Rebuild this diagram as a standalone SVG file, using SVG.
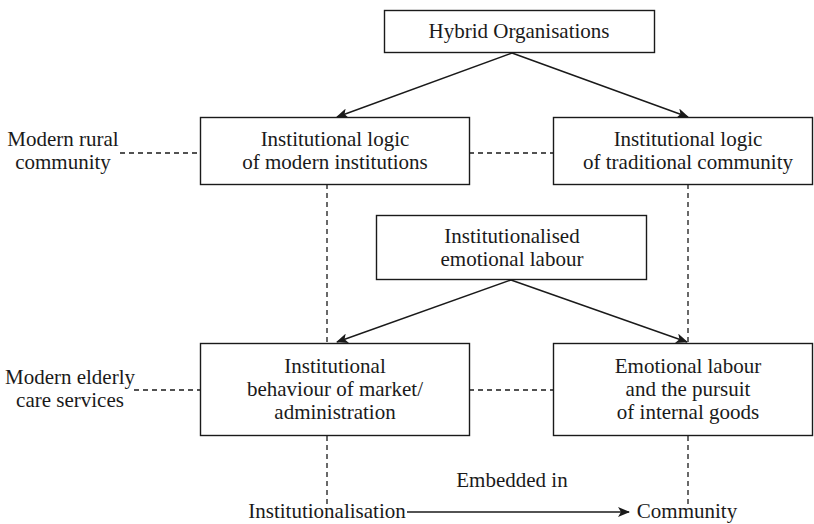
<svg xmlns="http://www.w3.org/2000/svg" width="814" height="524" viewBox="0 0 814 524">
<style>
  .box { fill: #fff; stroke: #1a1a1a; stroke-width: 1.4; }
  .t { font-family: "Liberation Serif", "Times New Roman", serif; font-size: 21px; fill: #1a1a1a; text-anchor: middle; }
  .arr { stroke: #1a1a1a; stroke-width: 1.4; fill: none; marker-end: url(#ah); }
  .dash { stroke: #1a1a1a; stroke-width: 1.3; fill: none; stroke-dasharray: 5 4; }
</style>
<defs>
  <marker id="ah" viewBox="0 0 12 10" refX="11" refY="5" markerWidth="12" markerHeight="10" markerUnits="userSpaceOnUse" orient="auto">
    <path d="M0,0 L12,5 L0,10 L3,5 Z" fill="#1a1a1a"/>
  </marker>
</defs>
<rect width="814" height="524" fill="#fff"/>
<g id="connectors">
  <line class="dash" x1="120" y1="153" x2="200" y2="153"/>
  <line class="dash" x1="469" y1="153" x2="553" y2="153"/>
  <line class="dash" x1="134" y1="390" x2="200" y2="390"/>
  <line class="dash" x1="469" y1="390" x2="553" y2="390"/>
  <line class="dash" x1="327" y1="184" x2="327" y2="343"/>
  <line class="dash" x1="688" y1="184" x2="688" y2="343"/>
  <line class="dash" x1="327" y1="436" x2="327" y2="505"/>
  <line class="dash" x1="688" y1="436" x2="688" y2="505"/>
  <line class="arr" x1="512" y1="53" x2="337" y2="117"/>
  <line class="arr" x1="512" y1="53" x2="688" y2="117"/>
  <line class="arr" x1="511" y1="280" x2="337" y2="342"/>
  <line class="arr" x1="511" y1="280" x2="687" y2="342"/>
  <line class="arr" x1="407" y1="512" x2="629" y2="512"/>
</g>
<g id="hybrid">
  <rect class="box" x="384.5" y="10.5" width="270" height="42"/>
  <text class="t" x="519" y="38">Hybrid Organisations</text>
</g>
<g id="logic-modern">
  <rect class="box" x="200.5" y="117.5" width="269" height="67"/>
  <text class="t" x="335" y="146">Institutional logic</text>
  <text class="t" x="335" y="169">of modern institutions</text>
</g>
<g id="logic-traditional">
  <rect class="box" x="553.5" y="117.5" width="259" height="67"/>
  <text class="t" x="688" y="146">Institutional logic</text>
  <text class="t" x="688" y="169">of traditional community</text>
</g>
<g id="inst-emotional">
  <rect class="box" x="376.5" y="215.5" width="270" height="64"/>
  <text class="t" x="512" y="243">Institutionalised</text>
  <text class="t" x="512" y="266">emotional labour</text>
</g>
<g id="behaviour">
  <rect class="box" x="200.5" y="343.5" width="269" height="92"/>
  <text class="t" x="335" y="373">Institutional</text>
  <text class="t" x="335" y="396">behaviour of market/</text>
  <text class="t" x="335" y="419">administration</text>
</g>
<g id="emotional">
  <rect class="box" x="553.5" y="343.5" width="259" height="92"/>
  <text class="t" x="688" y="373">Emotional labour</text>
  <text class="t" x="688" y="396">and the pursuit</text>
  <text class="t" x="688" y="419">of internal goods</text>
</g>
<g id="label-rural">
  <text class="t" x="63" y="146">Modern rural</text>
  <text class="t" x="63" y="169">community</text>
</g>
<g id="label-elderly">
  <text class="t" x="70" y="384">Modern elderly</text>
  <text class="t" x="70" y="407">care services</text>
</g>
<g id="label-embedded">
  <text class="t" x="512" y="487">Embedded in</text>
</g>
<g id="institutionalisation">
  <text class="t" x="327" y="518">Institutionalisation</text>
</g>
<g id="community">
  <text class="t" x="687" y="518">Community</text>
</g>
</svg>
